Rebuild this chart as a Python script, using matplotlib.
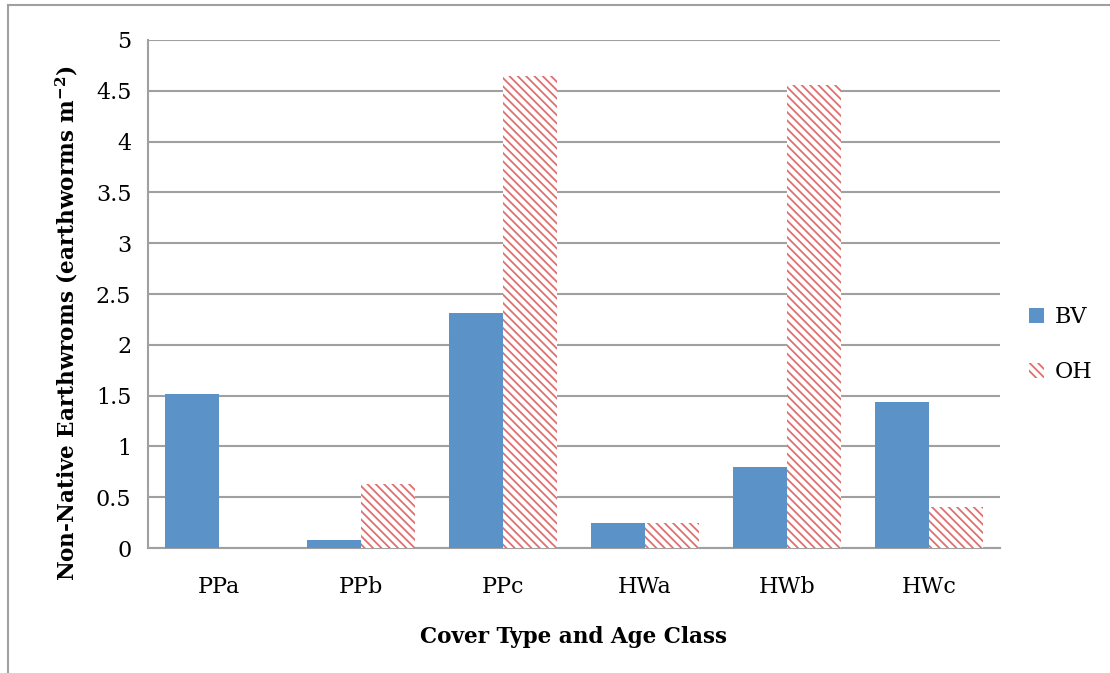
import matplotlib.pyplot as plt
import numpy as np
from matplotlib.lines import Line2D

categories = ["PPa", "PPb", "PPc", "HWa", "HWb", "HWc"]
bv_values = [1.52, 0.08, 2.31, 0.25, 0.80, 1.44]
oh_values = [0.0, 0.63, 4.65, 0.25, 4.56, 0.40]
yticks = [0, 0.5, 1, 1.5, 2, 2.5, 3, 3.5, 4, 4.5, 5]

plt.rcParams['font.family'] = ['DejaVu Serif']
plt.rcParams['hatch.linewidth'] = 1.3

fig = plt.figure(figsize=(11.10, 6.73), dpi=100)
ax = fig.add_axes([0.1333, 0.1857, 0.7676, 0.7549])

x = np.arange(len(categories))
w = 0.38
ax.bar(x - w / 2, bv_values, w, color='#5B93C8', label='BV', zorder=3)
ax.bar(x + w / 2, oh_values, w, color='white', edgecolor='#DE7070',
       hatch='\\\\\\\\', linewidth=0, label='OH', zorder=3)

ax.set_xlim(-0.5, len(categories) - 0.5)
ax.set_ylim(0, 5)
ax.set_yticks(yticks)
ax.set_yticklabels([f"{v:g}" for v in yticks])
ax.set_xticks(x)
ax.set_xticklabels(categories)
ax.tick_params(length=0, labelsize=16, pad=12)
ax.tick_params(axis='x', pad=20)
ax.yaxis.grid(True, color='#A0A0A0', linewidth=1.5, zorder=0)
for s in ['top', 'right']:
    ax.spines[s].set_visible(False)
for s in ['left', 'bottom']:
    ax.spines[s].set_color('#A0A0A0')
    ax.spines[s].set_linewidth(1.5)

ax.set_xlabel("Cover Type and Age Class", fontsize=15.5, fontweight='bold', labelpad=20)
ax.set_ylabel("Non-Native Earthwroms (earthworms m$^{\\mathregular{-2}}$)",
              fontsize=15.5, fontweight='bold')
ax.yaxis.set_label_coords(-0.080, 0.443)

ax.legend(loc='center left', bbox_to_anchor=(1.01, 0.40), frameon=False,
          fontsize=16, handlelength=0.7, handleheight=0.7, labelspacing=1.5,
          handletextpad=0.5)

# outer chart border
fig.add_artist(Line2D([8 / 1110, 1], [1 - 5 / 673, 1 - 5 / 673], color='#A0A0A0', lw=1.5))
fig.add_artist(Line2D([8 / 1110, 8 / 1110], [0, 1 - 5 / 673], color='#A0A0A0', lw=1.5))

fig.savefig("out.png", dpi=100)
